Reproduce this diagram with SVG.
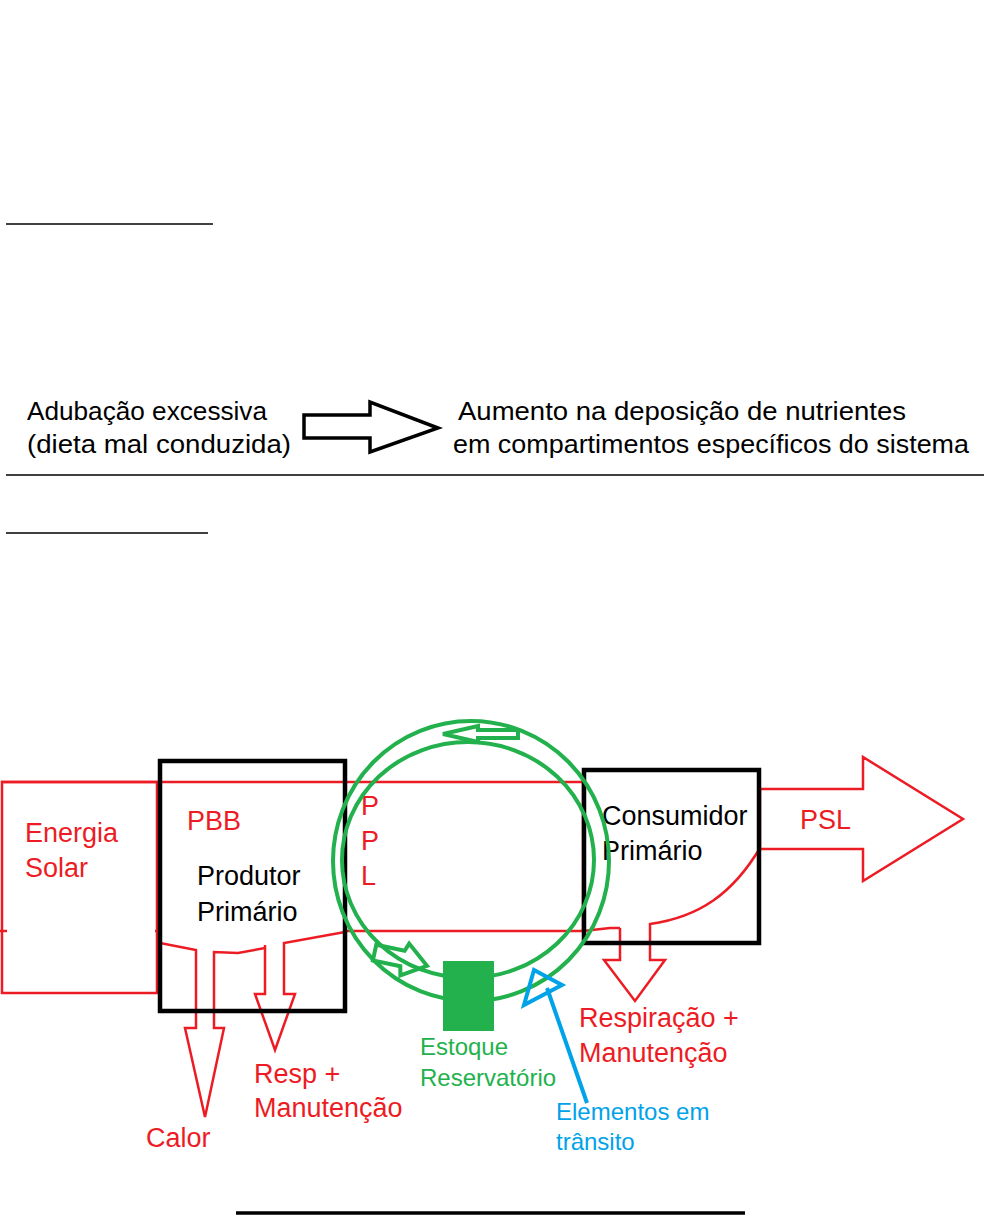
<svg xmlns="http://www.w3.org/2000/svg" width="984" height="1216" viewBox="0 0 984 1216">
<style>
text{font-family:"Liberation Sans",Arial,sans-serif}
.top{font-size:25px;fill:#000}
.lbl{font-size:27px}
.red{fill:#ed1c24}
.blk{fill:#000}
.grn{fill:#22b14c}
.blu{fill:#00a2e8}
.rs{fill:none;stroke:#ed1c24;stroke-width:2.5}
.box{fill:none;stroke:#000;stroke-width:4.5}
.gs{fill:none;stroke:#22b14c;stroke-width:4}
.rule{stroke:#000;stroke-width:1.5}
</style>
<rect width="984" height="1216" fill="#fff"/>
<g id="rules">
<line class="rule" x1="6" y1="224" x2="213" y2="224"/>
<line class="rule" x1="6" y1="475" x2="984" y2="475"/>
<line class="rule" x1="6" y1="533" x2="208" y2="533"/>
<line x1="236" y1="1213" x2="745" y2="1213" stroke="#000" stroke-width="3.5"/>
</g>
<g id="top-cause">
<text class="top" x="27" y="420" textLength="240" lengthAdjust="spacingAndGlyphs">Adubação excessiva</text>
<text class="top" x="27" y="453" textLength="264" lengthAdjust="spacingAndGlyphs">(dieta mal conduzida)</text>
</g>
<g id="top-effect">
<text class="top" x="458" y="420" textLength="448" lengthAdjust="spacingAndGlyphs">Aumento na deposição de nutrientes</text>
<text class="top" x="453" y="453" textLength="516" lengthAdjust="spacingAndGlyphs">em compartimentos específicos do sistema</text>
</g>
<g id="top-arrow">
<path d="M304,415 L370,415 L370,402 L438,428 L370,452 L370,438 L304,438 Z" fill="#fff" stroke="#000" stroke-width="3.5" stroke-linejoin="miter"/>
</g>
<g id="connectors">
<path class="rs" d="M1,782 L583,782 L583,931"/>
<path class="rs" d="M345,931 L583,931 L610,928 L620,928"/>
<line class="rs" x1="0" y1="931" x2="7" y2="931"/>
<line class="rs" x1="155" y1="931" x2="162" y2="931"/>
<path class="rs" d="M160,943 L196,950 L196,1028 L185,1028 L205,1117 L224,1028 L214,1028 L214,952 L238,953 L265,948"/>
<path class="rs" d="M265,945 L265,994 L255,994 L275,1050 L295,994 L284,994 L284,943 L345,932"/>
<path class="rs" d="M620,928 L620,960 L604,960 L635,1001 L665,960 L650,960 L650,924 C700,917 733,893 760,848"/>
<path class="rs" d="M760,789 L863,789 L863,757 L963,819 L863,881 L863,849 L760,849 Z"/>
</g>
<g id="energia-solar">
<rect class="rs" x="2" y="782" width="155" height="211"/>
<text class="lbl red" x="25" y="842">Energia</text>
<text class="lbl red" x="25" y="877">Solar</text>
</g>
<g id="produtor">
<rect class="box" x="160" y="761" width="185" height="250"/>
<text class="lbl red" x="187" y="830">PBB</text>
<text class="lbl blk" x="197" y="885">Produtor</text>
<text class="lbl blk" x="197" y="921">Primário</text>
</g>
<g id="consumidor">
<rect class="box" x="584" y="770" width="175" height="173"/>
<text class="lbl blk" x="602" y="825">Consumidor</text>
<text class="lbl blk" x="602" y="860">Primário</text>
</g>
<g id="ppl">
<text class="lbl red" x="361" y="815" font-size="26">P</text>
<text class="lbl red" x="361" y="850" font-size="26">P</text>
<text class="lbl red" x="361" y="885" font-size="26">L</text>
</g>
<g id="psl">
<text class="lbl red" x="800" y="829">PSL</text>
</g>
<g id="labels-out">
<text class="lbl red" x="146" y="1147">Calor</text>
<text class="lbl red" x="254" y="1083">Resp +</text>
<text class="lbl red" x="254" y="1117">Manutenção</text>
<text class="lbl red" x="579" y="1027">Respiração +</text>
<text class="lbl red" x="579" y="1062">Manutenção</text>
</g>
<g id="ciclo">
<ellipse class="gs" cx="471" cy="861" rx="138" ry="140"/>
<ellipse class="gs" cx="468" cy="860" rx="126" ry="118"/>
<path class="gs" stroke-width="3" d="M443,734 L478,726 L478,730 L518,730 L518,738 L478,738 L478,742 Z"/>
<path class="gs" stroke-width="3.5" transform="rotate(12 400 958)" d="M374,950 L403,950 L406,942 L428,960 L404,975 L402,966 L374,966 Z"/>
</g>
<g id="estoque">
<rect x="443" y="961" width="51" height="70" fill="#22b14c"/>
<text class="grn" x="420" y="1055" font-size="24">Estoque</text>
<text class="grn" x="420" y="1086" font-size="24">Reservatório</text>
</g>
<g id="transito">
<path d="M534,970 L562,985 L524,1005 Z" fill="none" stroke="#00a2e8" stroke-width="4" stroke-linejoin="miter"/>
<line x1="547" y1="988" x2="587" y2="1103" stroke="#00a2e8" stroke-width="4"/>
<text class="blu" x="556" y="1120" font-size="24">Elementos em</text>
<text class="blu" x="556" y="1150" font-size="24">trânsito</text>
</g>
</svg>
